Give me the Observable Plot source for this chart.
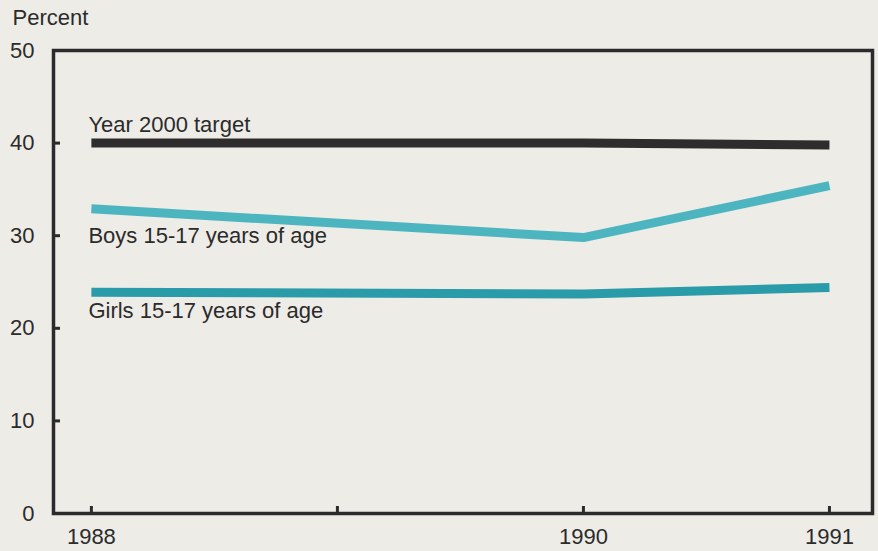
<!DOCTYPE html>
<html>
<head>
<meta charset="utf-8">
<script src="https://cdn.jsdelivr.net/npm/d3@7"></script>
<script src="https://cdn.jsdelivr.net/npm/@observablehq/plot@0.6"></script>
<style>
  html, body { margin: 0; padding: 0; background: #eeece7; }
  #chart svg { display: block; background: #eeece7; }
</style>
</head>
<body>
<div id="chart"></div>
<script>
const years = [1988, 1990, 1991];
const target = [40, 40, 39.8];
const boys = [32.9, 29.8, 35.4];
const girls = [23.9, 23.7, 24.4];
const seriesNames = ["Year 2000 target", "Boys 15-17 years of age", "Girls 15-17 years of age"];
const seriesColors = ["#2e2c2d", "#4db5bf", "#2a9ba8"];
const yTicks = [0, 10, 20, 30, 40, 50];
const xTicks = [1988, 1989, 1990, 1991];
const xTickLabels = ["1988", "", "1990", "1991"];
const yLabel = "Percent";

const seriesValues = [target, boys, girls];
const rows = [];
seriesNames.forEach((name, i) => {
  years.forEach((yr, j) => rows.push({series: name, year: yr, value: seriesValues[i][j]}));
});
const labelDy = [-18, 27, 19];

const FS = 22;
const INK = "#2b2b2b";

const plot = Plot.plot({
  width: 878,
  height: 551,
  marginLeft: 53,
  marginTop: 50,
  marginRight: 6,
  marginBottom: 38,
  style: {fontFamily: "'Liberation Sans', Arial, sans-serif", fontSize: FS + "px", color: INK, background: "#eeece7"},
  x: {domain: [1987.846, 1991.175]},
  y: {domain: [0, 50]},
  color: {domain: seriesNames, range: seriesColors},
  marks: [
    Plot.frame({stroke: INK, strokeWidth: 3.5}),
    Plot.axisY({ticks: yTicks, tickSize: -7, tickPadding: 26, tickFormat: d => String(d), strokeWidth: 3, stroke: INK, fill: INK, fontSize: FS, label: null}),
    Plot.axisX({ticks: xTicks, tickSize: -7, tickPadding: 22, tickFormat: d => xTickLabels[xTicks.indexOf(d)], strokeWidth: 3, stroke: INK, fill: INK, fontSize: FS, label: null}),
    Plot.line(rows, {x: "year", y: "value", z: "series", stroke: "series", strokeWidth: 9, strokeLinecap: "butt", strokeLinejoin: "miter"}),
    ...seriesNames.map((name, i) => Plot.text([{series: name, year: years[0], value: seriesValues[i][0]}], {
      x: "year", y: "value", text: "series", textAnchor: "start", dx: -3, dy: labelDy[i], fill: INK, fontSize: FS
    })),
    Plot.text([yLabel], {frameAnchor: "top-left", text: d => d, textAnchor: "start", lineAnchor: "top", dx: -41, dy: -41, fill: INK, fontSize: FS})
  ]
});
document.getElementById("chart").appendChild(plot);
</script>
</body>
</html>
